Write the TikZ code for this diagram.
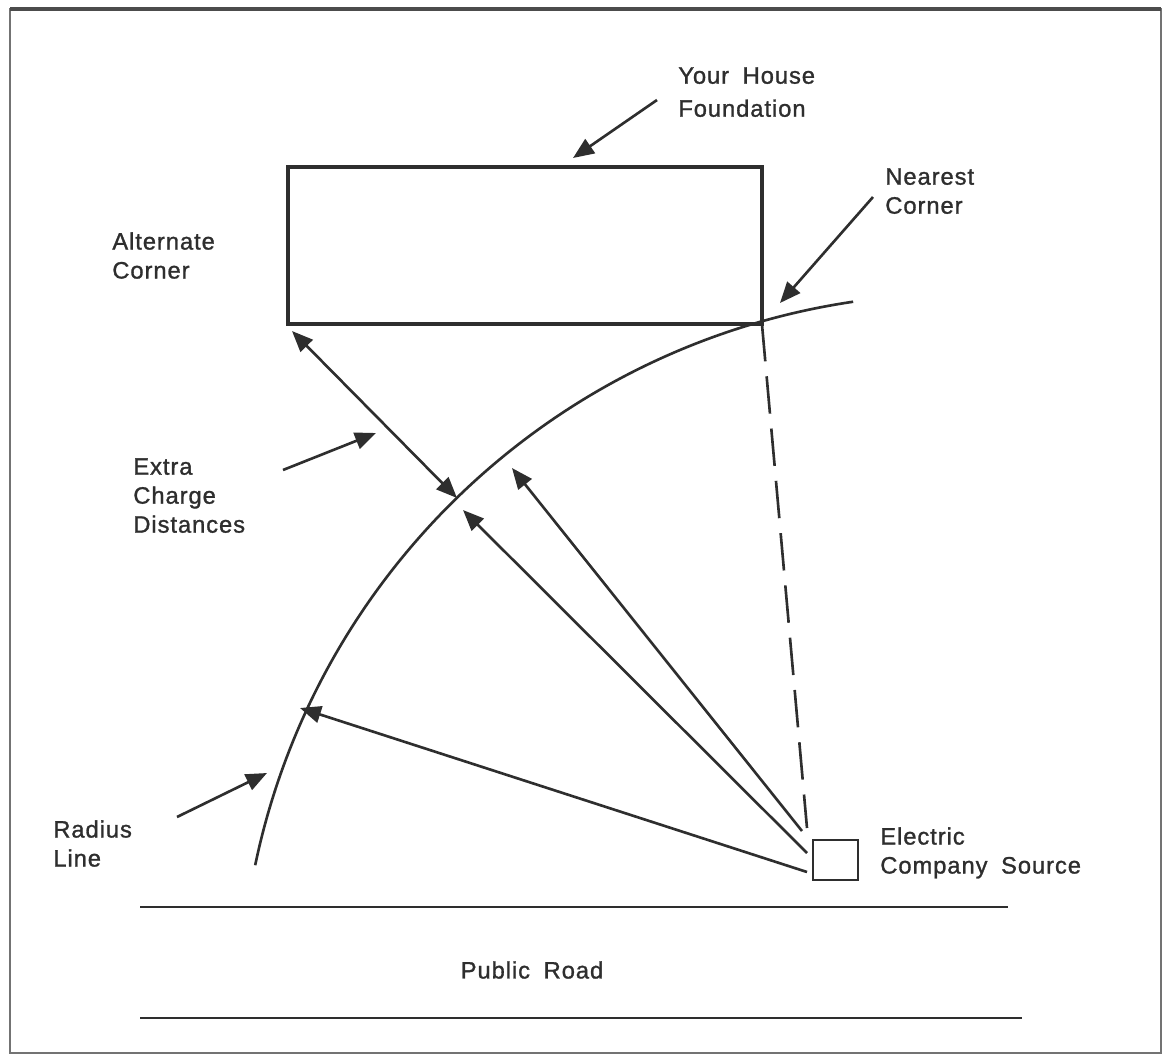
\documentclass[tikz,border=0pt]{standalone}
\usepackage{fontspec}
\setmainfont{Liberation Sans}[LetterSpace=4,WordSpace=1.8,FakeBold=1.2]
\usetikzlibrary{arrows.meta}

\tikzset{
  ink/.style={draw=black!82,line width=1.5pt},
  pointer/.style={ink,-{Triangle[length=0.42cm,width=0.34cm]}},
  lbl/.style={anchor=north west,inner sep=0pt,align=left,text=black!82,
    font=\fontsize{13.5}{16.5}\selectfont},
}

\begin{document}
\begin{tikzpicture}[x=0.02cm,y=-0.02cm]
\useasboundingbox (0,0) rectangle (1164,1056);
% frame
\draw[black!55,line width=0.8pt] (10,9) rectangle (1161,1053);
\draw[black!70,line width=2pt] (10,9) -- (1161,9);

% house, source and road
\node[ink,line width=1.8pt,inner sep=0pt,outer sep=0pt,
  minimum width=9.48cm,minimum height=3.14cm] (house) at (525,245.5) {};
\node[ink,inner sep=0pt,outer sep=0pt,
  minimum width=0.9cm,minimum height=0.8cm] (src) at (835.5,860) {};
\draw[ink] (140,907) -- (1008,907);
\draw[ink] (140,1018) -- (1022,1018);

% radius line
\draw[ink] (958,1012) ++(191.8:718) arc[start angle=191.8,end angle=261.6,radius=718];

% rays from the source
\coordinate (s0) at (807,828);
\coordinate (s1) at (802,831);
\coordinate (s2) at (807,853);
\coordinate (s3) at (807,872);
\coordinate (t1) at (512,468);
\coordinate (t2) at (463,510);
\coordinate (t3) at (300,708);
\draw[ink,dash pattern=on 0.75cm off 0.3cm] (house.south east) -- (s0);
\foreach\i in {1,2,3}{
 \draw[pointer] (s\i) -- (t\i);
}
\coordinate (da) at (292,331);
\coordinate (db) at (457,498);
\draw[pointer,{Triangle[length=0.42cm,width=0.34cm]}-{Triangle[length=0.42cm,width=0.34cm]}] (da) -- (db);

% labels
\node[lbl] (housetxt) at (678,67) {Your House\\[2.3pt]Foundation};
\node[lbl] (alttxt) at (112,232) {Alternate\\Corner};
\node[lbl] (neartxt) at (885,168) {Nearest\\Corner};
\node[lbl] (extratxt) at (133,458) {Extra\\Charge\\Distances};
\node[lbl] (radtxt) at (53,820) {Radius\\Line};
\node[lbl] (srctxt) at (880,827) {Electric\\Company Source};
\node[lbl,anchor=center] (roadtxt) at (532,970) {Public Road};

% label pointers
\coordinate (hs) at (657,100);
\coordinate (ht) at (573,158);
\coordinate (ns) at (873,197);
\coordinate (nt) at (780,303);
\coordinate (es) at (283,470);
\coordinate (et) at (376,433);
\coordinate (rs) at (177,817);
\coordinate (rt) at (267,773);
\draw[pointer] (hs) -- (ht);
\draw[pointer] (ns) -- (nt);
\draw[pointer] (es) -- (et);
\draw[pointer] (rs) -- (rt);
\end{tikzpicture}
\end{document}
